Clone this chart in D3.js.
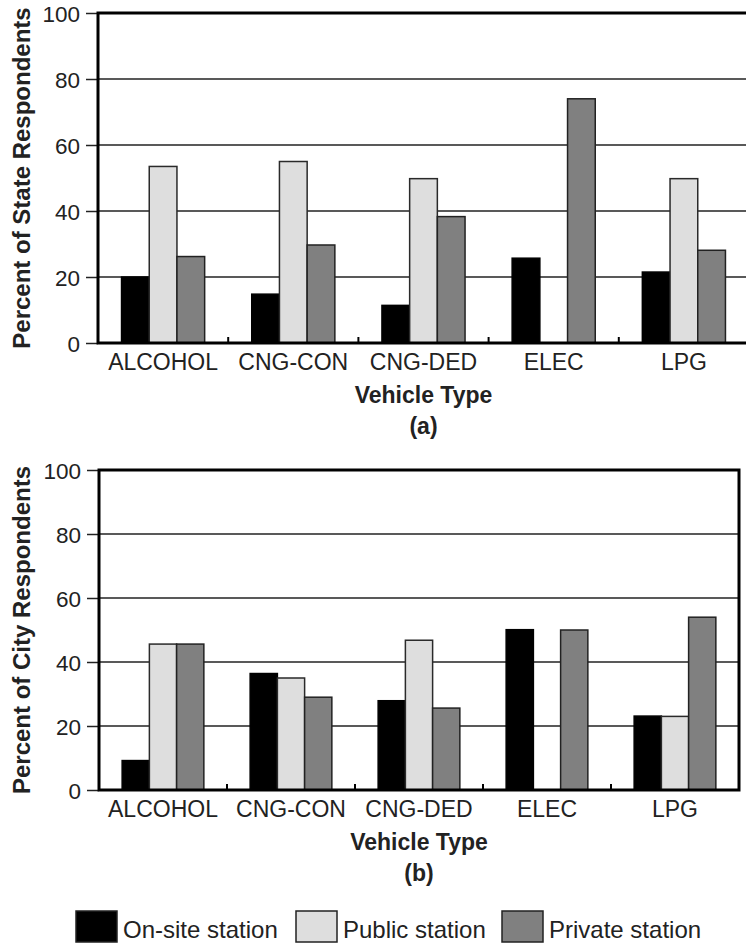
<!DOCTYPE html>
<html>
<head>
<meta charset="utf-8">
<script src="https://cdn.jsdelivr.net/npm/d3@7"></script>
<style>
  body { margin: 0; background: #fff; }
  text { font-family: "Liberation Sans", Arial, sans-serif; fill: #222; }
</style>
</head>
<body>
<div id="chart"></div>
<script>
const categories = ["ALCOHOL", "CNG-CON", "CNG-DED", "ELEC", "LPG"];
const seriesNames = ["On-site station", "Public station", "Private station"];
const yTicks = [0, 20, 40, 60, 80, 100];

// panel (a): state respondents
const stateOnsite  = [20, 14.8, 11.4, 25.7, 21.5];
const statePublic  = [53.5, 55, 49.8, 0, 49.8];
const statePrivate = [26.2, 29.7, 38.3, 74, 28.1];

// panel (b): city respondents
const cityOnsite  = [9.2, 36.4, 27.9, 50.1, 23.1];
const cityPublic  = [45.6, 35, 46.8, 0, 23];
const cityPrivate = [45.6, 29, 25.6, 50, 54];

const W = 746, H = 945;

const svg = d3.select("#chart")
  .append("svg")
  .attr("width", W)
  .attr("height", H);

const color = d3.scaleOrdinal()
  .domain(seriesNames)
  .range(["#000000", "#dedede", "#808080"]);

const stroke = d3.scaleOrdinal()
  .domain(seriesNames)
  .range(["#000000", "#2a2a2a", "#222222"]);

function drawPanel(opts) {
  const { left, right, top, bottom, values, yLabel, tag } = opts;
  const g = svg.append("g");

  const x0 = d3.scaleBand()
    .domain(categories)
    .range([left, right])
    .padding(0);

  const x1 = d3.scaleBand()
    .domain(seriesNames)
    .range([0, x0.bandwidth()])
    .paddingInner(0)
    .paddingOuter(0.85);

  const y = d3.scaleLinear()
    .domain([0, 100])
    .range([bottom, top]);

  // grid lines
  g.append("g")
    .selectAll("line")
    .data(yTicks.filter(d => d > 0 && d < 100))
    .join("line")
    .attr("x1", left)
    .attr("x2", right)
    .attr("y1", d => y(d))
    .attr("y2", d => y(d))
    .attr("stroke", "#222")
    .attr("stroke-width", 1.5);

  // bars
  const rows = [];
  categories.forEach((c, i) => {
    seriesNames.forEach((s, j) => {
      rows.push({ cat: c, series: s, value: values[j][i] });
    });
  });

  g.append("g")
    .selectAll("rect")
    .data(rows.filter(d => d.value > 0))
    .join("rect")
    .attr("x", d => x0(d.cat) + x1(d.series))
    .attr("y", d => y(d.value))
    .attr("width", x1.bandwidth())
    .attr("height", d => y(0) - y(d.value))
    .attr("fill", d => color(d.series))
    .attr("stroke", d => stroke(d.series))
    .attr("stroke-width", 1.5);

  // y axis ticks and labels
  const yAxis = g.append("g")
    .attr("transform", `translate(${left},0)`)
    .call(d3.axisLeft(y).tickValues(yTicks).tickSize(12).tickPadding(6).tickSizeOuter(0));
  yAxis.select(".domain").remove();
  yAxis.selectAll(".tick line").attr("stroke", "#222").attr("stroke-width", 1.5);
  yAxis.selectAll(".tick text")
    .style("font-size", "22.5px")
    .style("font-family", "'Liberation Sans', Arial, sans-serif")
    .attr("fill", "#222")
    .attr("dy", "0.36em");

  // group separator ticks
  g.append("g")
    .selectAll("line")
    .data(categories.slice(1))
    .join("line")
    .attr("x1", d => x0(d))
    .attr("x2", d => x0(d))
    .attr("y1", y(0))
    .attr("y2", y(0) - 6)
    .attr("stroke", "#000")
    .attr("stroke-width", 2);

  // frame
  g.append("path")
    .attr("d", `M${left},${top}H${right}V${bottom}H${left}Z`)
    .attr("fill", "none")
    .attr("stroke", "#000")
    .attr("stroke-width", 3);

  // category labels
  g.append("g")
    .selectAll("text")
    .data(categories)
    .join("text")
    .attr("x", d => x0(d) + x0.bandwidth() / 2)
    .attr("y", bottom + 27)
    .attr("text-anchor", "middle")
    .style("font-size", "23px")
    .text(d => d);

  const cx = (left + right) / 2;
  g.append("text")
    .attr("x", cx)
    .attr("y", bottom + 60)
    .attr("text-anchor", "middle")
    .style("font-size", "23px")
    .style("font-weight", "bold")
    .text("Vehicle Type");

  g.append("text")
    .attr("x", cx)
    .attr("y", bottom + 91)
    .attr("text-anchor", "middle")
    .style("font-size", "23px")
    .style("font-weight", "bold")
    .text(tag);

  g.append("text")
    .attr("transform", "rotate(-90)")
    .attr("x", -(top + bottom) / 2)
    .attr("y", 30)
    .attr("text-anchor", "middle")
    .style("font-size", "24px")
    .style("font-weight", "bold")
    .text(yLabel);
}

drawPanel({
  left: 98, right: 749, top: 13, bottom: 343,
  values: [stateOnsite, statePublic, statePrivate],
  yLabel: "Percent of State Respondents",
  tag: "(a)"
});

drawPanel({
  left: 99, right: 739, top: 470, bottom: 790,
  values: [cityOnsite, cityPublic, cityPrivate],
  yLabel: "Percent of City Respondents",
  tag: "(b)"
});

// legend
const legendX = [76, 296, 502];
const legend = svg.append("g");
seriesNames.forEach((s, i) => {
  legend.append("rect")
    .attr("x", legendX[i])
    .attr("y", 911)
    .attr("width", 41)
    .attr("height", 31)
    .attr("fill", color(s))
    .attr("stroke", "#222")
    .attr("stroke-width", 1.5);

  legend.append("text")
    .attr("x", legendX[i] + 47)
    .attr("y", 938)
    .style("font-size", "24px")
    .text(s);
});
</script>
</body>
</html>
